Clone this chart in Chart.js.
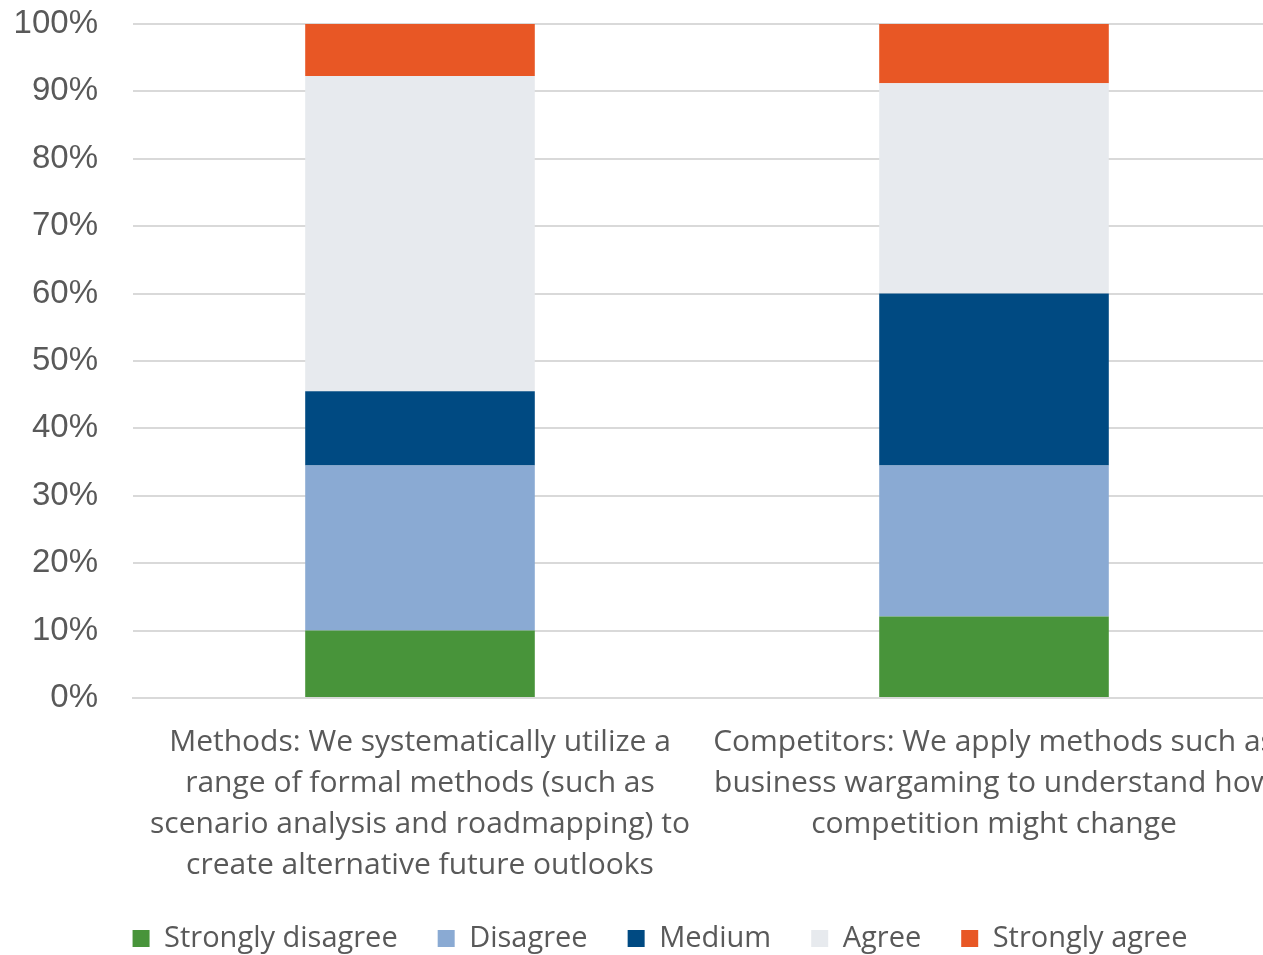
<!DOCTYPE html>
<html>
<head>
<meta charset="utf-8">
<script src="https://cdn.jsdelivr.net/npm/chart.js@4/dist/chart.umd.min.js"></script>
<style>
  html, body { margin: 0; padding: 0; background: #fff; overflow: hidden; }
  #wrap { width: 1320px; height: 955px; }
</style>
</head>
<body>
<div id="wrap"><canvas id="grafico" width="1320" height="955"></canvas></div>
<script>
// categorias (etiquetas de varias lineas)
const categorias = [
  ['Methods: We systematically utilize a', 'range of formal methods (such as', 'scenario analysis and roadmapping) to', 'create alternative future outlooks'],
  ['Competitors: We apply methods such as', 'business wargaming to understand how', 'competition might change']
];

// valores en % por respuesta
const muyDesacuerdo = [10.0, 12.1];
const desacuerdo = [24.5, 22.4];
const medio = [11.0, 25.5];
const deAcuerdo = [46.8, 31.2];
const muyDeAcuerdo = [7.7, 8.8];

const etiquetasY = ['0%', '10%', '20%', '30%', '40%', '50%', '60%', '70%', '80%', '90%', '100%'];

const textoGris = '#595959';
const fuenteTexto = "'Open Sans', 'Noto Sans', sans-serif";

new Chart(document.getElementById('grafico'), {
  type: 'bar',
  data: {
    labels: categorias,
    datasets: [
      { label: 'Strongly disagree', data: muyDesacuerdo, backgroundColor: '#48943a' },
      { label: 'Disagree', data: desacuerdo, backgroundColor: '#8aaad3' },
      { label: 'Medium', data: medio, backgroundColor: '#004a82' },
      { label: 'Agree', data: deAcuerdo, backgroundColor: '#e7eaee' },
      { label: 'Strongly agree', data: muyDeAcuerdo, backgroundColor: '#e85725' }
    ]
  },
  options: {
    responsive: false,
    animation: false,
    barPercentage: 0.4,
    categoryPercentage: 1.0,
    layout: { padding: { top: 24, left: 0, right: 0, bottom: -8 } },
    plugins: {
      legend: {
        position: 'bottom',
        labels: {
          boxWidth: 17,
          boxHeight: 17,
          padding: 40,
          color: textoGris,
          font: { family: fuenteTexto, size: 29 }
        }
      },
      title: { display: false },
      tooltip: { enabled: false }
    },
    scales: {
      x: {
        stacked: true,
        afterFit: s => { s.height = 186; },
        grid: { display: false },
        border: { color: '#d9d9d9', width: 2 },
        ticks: {
          color: textoGris,
          maxRotation: 0,
          autoSkip: false,
          padding: 16,
          font: { family: fuenteTexto, size: 30, lineHeight: '41px' }
        }
      },
      y: {
        stacked: true,
        min: 0,
        max: 100,
        afterFit: s => { s.width = 133; },
        border: { display: false },
        grid: { color: '#d9d9d9', lineWidth: 2, drawTicks: true, tickLength: 35, tickColor: 'rgba(0,0,0,0)' },
        ticks: {
          stepSize: 10,
          padding: 0,
          color: textoGris,
          font: { family: "'Liberation Sans', Arial, sans-serif", size: 33 },
          callback: (v) => etiquetasY[Math.round(v / 10)]
        }
      },
      // eje vacio a la derecha para dejar el hueco del grafico original
      derecha: {
        position: 'right',
        display: true,
        grid: { display: false },
        border: { display: false },
        ticks: { display: false },
        afterFit: s => { s.width = 39; }
      }
    }
  }
});
</script>
</body>
</html>
